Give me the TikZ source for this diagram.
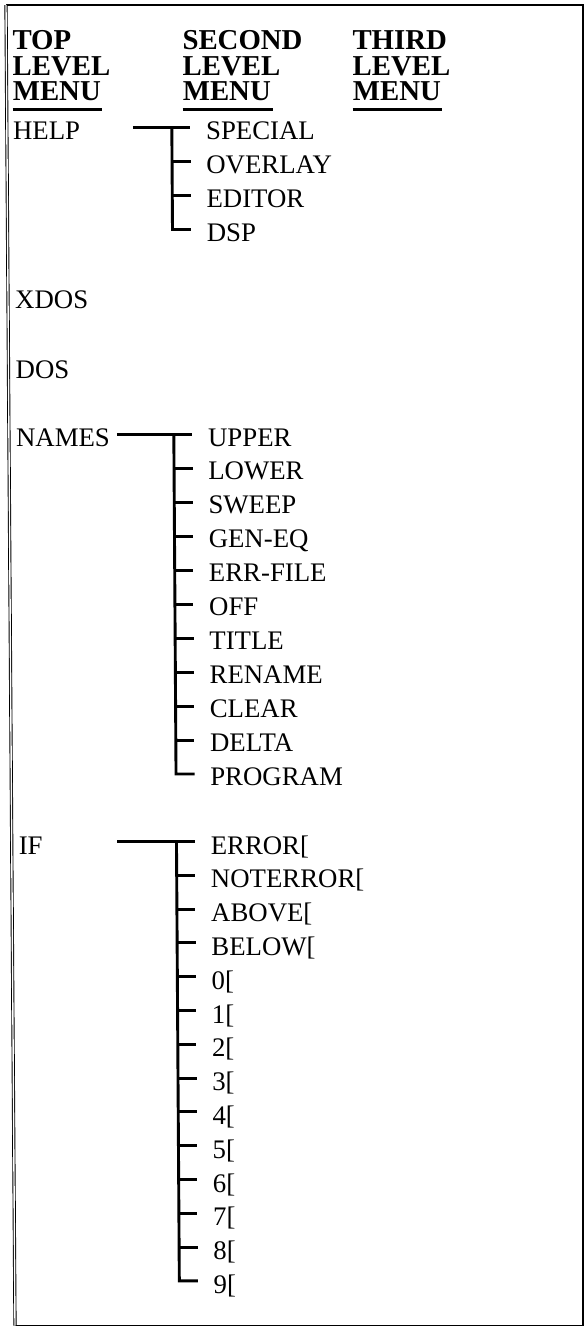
\documentclass[tikz,border=0pt]{standalone}
\usepackage{fontspec}
\setmainfont{Liberation Serif}
\usetikzlibrary{calc}
\tikzset{
  body/.style={font=\fontsize{26.8}{30}\selectfont, inner sep=0pt, anchor=base west},
  head/.style={font=\fontsize{28.8}{30}\selectfont\bfseries, inner sep=0pt, anchor=base west},
  conn/.style={line width=2.9pt, black},
  uline/.style={line width=2.4pt, black},
  frame/.style={line width=1.6pt, black}
}
\begin{document}
\begin{tikzpicture}[x=1pt, y=-1pt]
\useasboundingbox (0,0) rectangle (585,1328);
% frame
\draw[frame] (6,5) -- (583,5) -- (583,1325.5) -- (15,1325.5);
\draw[line width=0.9pt, double, double distance=1.4pt] (6,5) -- (15,1325.5);

\begin{scope}[xslant=-0.0065]
% headers
\node[head] (topA) at (12,49) {TOP};
\node[head] (topB) at (12,75) {LEVEL};
\node[head] (topC) at (12,100) {MENU};
\node[head] (secA) at (182,49) {SECOND};
\node[head] (secB) at (182,75) {LEVEL};
\node[head] (secC) at (182,100) {MENU};
\node[head] (thiA) at (352,49) {THIRD};
\node[head] (thiB) at (352,75) {LEVEL};
\node[head] (thiC) at (352,100) {MENU};
\draw[uline] ($(topC.base west)+(0,9.3)$) -- ($(topC.base east)+(1,9.3)$);
\draw[uline] ($(secC.base west)+(0,9.3)$) -- ($(secC.base east)+(2,9.3)$);
\draw[uline] ($(thiC.base west)+(0,9.3)$) -- ($(thiC.base east)+(1,9.3)$);

% HELP
\node[body] (help) at (12,139) {HELP};
\foreach \t [count=\i from 0] in {SPECIAL,OVERLAY,EDITOR,DSP}
  \node[body] (help\i) at (205,{139+34*\i}) {\t};
\coordinate (helpL) at (132,127.5);
\draw[conn] (helpL) -- ($(help0.base west)+(-15.5,-11.5)$);
\draw[conn] ($(help0.base west)+(-34,-11.5)$) |- ($(help3.base west)+(-15.5,-11.5)$);
\foreach \i in {1,2}
  \draw[conn] ($(help\i.base west)+(-34,-11.5)$) -- ($(help\i.base west)+(-15.5,-11.5)$);

% XDOS, DOS
\node[body] (xdos) at (13,308.5) {XDOS};
\node[body] (dos) at (13,378.5) {DOS};

% NAMES
\node[body] (names) at (13,446) {NAMES};
\foreach \t [count=\i from 0] in {UPPER,LOWER,SWEEP,GEN-EQ,ERR-FILE,OFF,TITLE,RENAME,CLEAR,DELTA,PROGRAM}
  \node[body] (names\i) at (205,{446+33.95*\i}) {\t};
\coordinate (namesL) at (114,434.5);
\draw[conn] (namesL) -- ($(names0.base west)+(-15.5,-11.5)$);
\draw[conn] ($(names0.base west)+(-34,-11.5)$) |- ($(names10.base west)+(-15.5,-11.5)$);
\foreach \i in {1,...,9}
  \draw[conn] ($(names\i.base west)+(-34,-11.5)$) -- ($(names\i.base west)+(-15.5,-11.5)$);

% IF
\node[body] (ifm) at (13,854) {IF};
\foreach \t [count=\i from 0] in {{ERROR[},{NOTERROR[},{ABOVE[},{BELOW[},{0[},{1[},{2[},{3[},{4[},{5[},{6[},{7[},{8[},{9[}}
  \node[body] (ifm\i) at (205,{854+33.8*\i}) {\t};
\coordinate (ifL) at (112,841.5);
\draw[conn] (ifL) -- ($(ifm0.base west)+(-15.5,-12.5)$);
\draw[conn] ($(ifm0.base west)+(-34,-12.5)$) |- ($(ifm13.base west)+(-15.5,-12.5)$);
\foreach \i in {1,...,12}
  \draw[conn] ($(ifm\i.base west)+(-34,-12.5)$) -- ($(ifm\i.base west)+(-15.5,-12.5)$);
\end{scope}
\end{tikzpicture}
\end{document}
